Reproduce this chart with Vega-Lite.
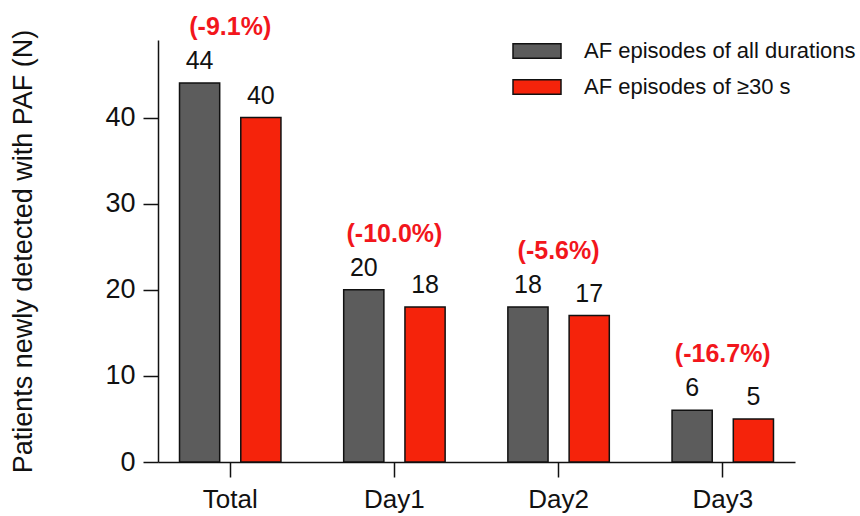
{
  "$schema": "https://vega.github.io/schema/vega-lite/v6.json",
  "width": 637,
  "height": 422,
  "autosize": {"type": "none"},
  "padding": {"left": 158, "top": 40, "right": 65, "bottom": 54},
  "background": "white",
  "config": {
    "font": "Liberation Sans",
    "view": {"stroke": null},
    "axis": {"grid": false, "domainColor": "#111", "domainWidth": 1.5, "tickColor": "#111", "tickWidth": 1.5, "labelColor": "#111", "titleColor": "#111", "labelFont": "Liberation Sans", "titleFont": "Liberation Sans"},
    "legend": {"labelFont": "Liberation Sans", "labelFontSize": 22, "labelColor": "#111", "labelLimit": 400}
  },
  "datasets": {
    "bars": [
      {"category": "Total", "series": "AF episodes of all durations", "value": 44},
      {"category": "Total", "series": "AF episodes of ≥30 s", "value": 40},
      {"category": "Day1", "series": "AF episodes of all durations", "value": 20},
      {"category": "Day1", "series": "AF episodes of ≥30 s", "value": 18},
      {"category": "Day2", "series": "AF episodes of all durations", "value": 18},
      {"category": "Day2", "series": "AF episodes of ≥30 s", "value": 17},
      {"category": "Day3", "series": "AF episodes of all durations", "value": 6},
      {"category": "Day3", "series": "AF episodes of ≥30 s", "value": 5}
    ],
    "pct": [
      {"category": "Total", "value": 44, "label": "(-9.1%)"},
      {"category": "Day1", "value": 20, "label": "(-10.0%)"},
      {"category": "Day2", "value": 18, "label": "(-5.6%)"},
      {"category": "Day3", "value": 6, "label": "(-16.7%)"}
    ]
  },
  "layer": [
    {
      "data": {"name": "bars"},
      "mark": {"type": "bar", "stroke": "#111", "strokeWidth": 1.5},
      "encoding": {
        "x": {"field": "category", "type": "nominal", "sort": ["Total", "Day1", "Day2", "Day3"],
              "scale": {"paddingInner": 0.3, "paddingOuter": 0.09},
              "axis": {"title": null, "labelAngle": 0, "labelFontSize": 26, "tickSize": 15, "labelPadding": 9}},
        "xOffset": {"field": "series", "type": "nominal", "sort": ["AF episodes of all durations", "AF episodes of ≥30 s"],
                    "scale": {"paddingInner": 0.344, "paddingOuter": 0.11}},
        "y": {"field": "value", "type": "quantitative",
              "scale": {"domain": [0, 49], "nice": false},
              "axis": {"values": [0, 10, 20, 30, 40], "title": "Patients newly detected with PAF (N)", "titleFontSize": 27, "titleFontWeight": "normal", "titlePadding": 67, "labelFontSize": 27, "tickSize": 15, "labelPadding": 8}},
        "color": {"field": "series", "type": "nominal",
                  "scale": {"domain": ["AF episodes of all durations", "AF episodes of ≥30 s"], "range": ["#5c5c5c", "#f5230b"]},
                  "legend": {"title": null, "orient": "none", "legendX": 354, "legendY": -14, "symbolType": "M-1,-0.3H1V0.3H-1Z", "symbolSize": 2304, "symbolStrokeColor": "#111", "symbolStrokeWidth": 1.5, "labelOffset": 22, "rowPadding": -11, "padding": 0}}
      }
    },
    {
      "data": {"name": "bars"},
      "mark": {"type": "text", "dy": -14, "baseline": "alphabetic", "fontSize": 25, "color": "#111"},
      "encoding": {
        "x": {"field": "category", "type": "nominal", "sort": ["Total", "Day1", "Day2", "Day3"]},
        "xOffset": {"field": "series", "type": "nominal", "sort": ["AF episodes of all durations", "AF episodes of ≥30 s"]},
        "y": {"field": "value", "type": "quantitative"},
        "text": {"field": "value", "type": "quantitative"}
      }
    },
    {
      "data": {"name": "pct"},
      "mark": {"type": "text", "dy": -48, "baseline": "alphabetic", "fontSize": 25, "fontWeight": "bold", "color": "#f2161c"},
      "encoding": {
        "x": {"field": "category", "type": "nominal", "sort": ["Total", "Day1", "Day2", "Day3"]},
        "y": {"field": "value", "type": "quantitative"},
        "text": {"field": "label", "type": "nominal"}
      }
    }
  ]
}
